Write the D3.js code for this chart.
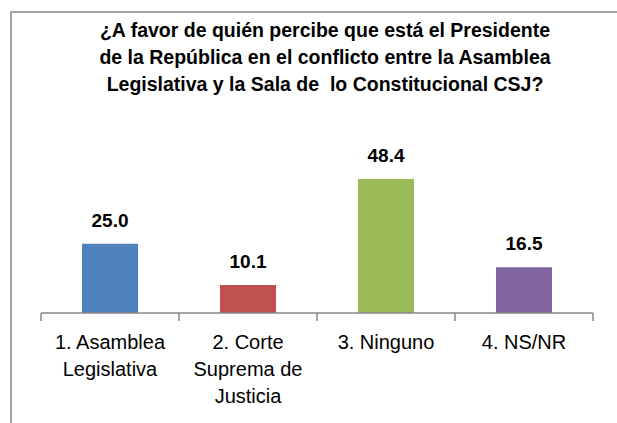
<!DOCTYPE html>
<html>
<head>
<meta charset="utf-8">
<script src="https://cdn.jsdelivr.net/npm/d3@7"></script>
<style>
  body { margin: 0; background: #fff; }
  svg { display: block; }
  text { white-space: pre; }
</style>
</head>
<body>
<svg id="chart"></svg>
<script>
var categories = [["1. Asamblea", "Legislativa"], ["2. Corte", "Suprema de", "Justicia"], ["3. Ninguno"], ["4. NS/NR"]]
var values = [25.0, 10.1, 48.4, 16.5]
var colors = ["#4f81bd", "#c0504d", "#9bbb59", "#8064a2"]
var titleLines = ["¿A favor de quién percibe que está el Presidente",
                  "de la República en el conflicto entre la Asamblea",
                  "Legislativa y la Sala de  lo Constitucional CSJ?"]

var dimensions = {
    width: 617,
    height: 423,
    margin: { top: 146.8, bottom: 110, left: 41, right: 24 }
}

var font = "'Liberation Sans', Arial, sans-serif"

var svg = d3.select("#chart")
    .attr("width", dimensions.width)
    .attr("height", dimensions.height)

// outer frame (cut off at right and bottom)
svg.append("rect")
    .attr("x", 11).attr("y", 12)
    .attr("width", 700).attr("height", 500)
    .attr("fill", "none")
    .attr("stroke", "#a3a3a3")
    .attr("stroke-width", 2)

svg.append("text")
    .attr("text-anchor", "middle")
    .style("font-family", font)
    .style("font-weight", "bold")
    .style("font-size", "19.5px")
    .selectAll("tspan")
    .data(titleLines)
    .enter()
    .append("tspan")
    .attr("x", 325)
    .attr("y", (d, i) => 37 + i * 27)
    .text(d => d)

var xScale = d3.scaleBand()
    .domain(d3.range(values.length))
    .range([dimensions.margin.left, dimensions.width - dimensions.margin.right])
    .paddingInner(0.594)
    .paddingOuter(0.297)

var yScale = d3.scaleLinear()
    .domain([0, 60])
    .range([dimensions.height - dimensions.margin.bottom, dimensions.margin.top])

var baseY = yScale(0)

svg.selectAll("rect.bar")
    .data(values)
    .enter()
    .append("rect")
    .attr("class", "bar")
    .attr("x", (d, i) => xScale(i))
    .attr("y", d => yScale(d))
    .attr("width", xScale.bandwidth())
    .attr("height", d => baseY - yScale(d))
    .attr("fill", (d, i) => colors[i])

svg.selectAll("text.value")
    .data(values)
    .enter()
    .append("text")
    .attr("class", "value")
    .attr("x", (d, i) => xScale(i) + xScale.bandwidth() / 2)
    .attr("y", d => yScale(d) - 17)
    .attr("text-anchor", "middle")
    .style("font-family", font)
    .style("font-weight", "bold")
    .style("font-size", "19px")
    .text(d => d.toFixed(1))

// category axis with ticks at band boundaries
var step = xScale.step()
var bounds = d3.range(values.length + 1).map(i => dimensions.margin.left + i * step)

var axis = svg.append("g")
axis.append("line")
    .attr("x1", bounds[0]).attr("x2", bounds[bounds.length - 1])
    .attr("y1", baseY).attr("y2", baseY)
    .attr("stroke", "#878787")
    .attr("stroke-width", 1.5)
axis.selectAll("line.tick")
    .data(bounds)
    .enter()
    .append("line")
    .attr("class", "tick")
    .attr("x1", d => d).attr("x2", d => d)
    .attr("y1", baseY).attr("y2", baseY + 8)
    .attr("stroke", "#878787")
    .attr("stroke-width", 1.5)

var labels = axis.selectAll("text.cat")
    .data(categories)
    .enter()
    .append("text")
    .attr("class", "cat")
    .attr("text-anchor", "middle")
    .style("font-family", font)
    .style("font-size", "20px")

labels.selectAll("tspan")
    .data((d, i) => d.map(t => ({ t: t, i: i })))
    .enter()
    .append("tspan")
    .attr("x", d => xScale(d.i) + xScale.bandwidth() / 2)
    .attr("y", (d, j) => baseY + 36 + j * 27)
    .text(d => d.t)
</script>
</body>
</html>
